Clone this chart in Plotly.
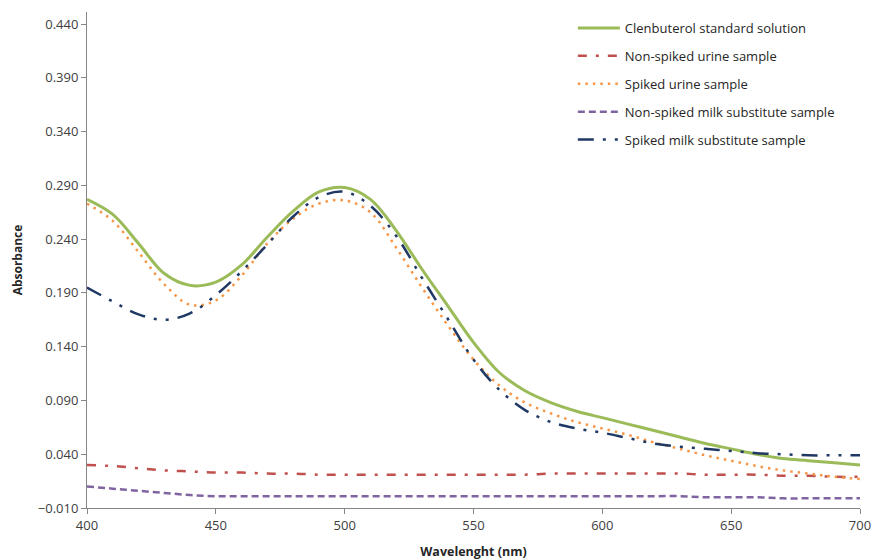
import plotly.graph_objects as go

# Wavelength grid (nm)
wl = [400, 410, 420, 430, 440, 450, 460, 470, 480, 490, 500, 510, 520, 530,
      540, 550, 560, 570, 580, 590, 600, 610, 620, 630, 640, 650, 660, 670, 680, 690, 700]

clenbuterol_std = [0.277, 0.263, 0.236, 0.208, 0.197, 0.200, 0.216, 0.242, 0.266, 0.284,
                   0.288, 0.277, 0.248, 0.212, 0.178, 0.144, 0.116, 0.099, 0.088, 0.080, 0.074,
                   0.068, 0.062, 0.056, 0.050, 0.045, 0.040, 0.036, 0.034, 0.032, 0.030]

spiked_urine = [0.273, 0.257, 0.228, 0.198, 0.179, 0.183, 0.206, 0.236, 0.259, 0.273,
                0.276, 0.265, 0.232, 0.195, 0.160, 0.128, 0.104, 0.088, 0.078, 0.070, 0.064,
                0.058, 0.051, 0.045, 0.039, 0.034, 0.029, 0.025, 0.022, 0.019, 0.017]

spiked_milk = [0.195, 0.182, 0.170, 0.165, 0.171, 0.188, 0.210, 0.235, 0.261, 0.279,
               0.284, 0.271, 0.243, 0.204, 0.166, 0.128, 0.100, 0.081, 0.070, 0.064, 0.060,
               0.055, 0.050, 0.047, 0.045, 0.043, 0.041, 0.040, 0.039, 0.039, 0.039]

nonspiked_urine = [0.030, 0.029, 0.027, 0.025, 0.024, 0.023, 0.023, 0.022, 0.022, 0.021,
                   0.021, 0.021, 0.021, 0.021, 0.021, 0.021, 0.021, 0.021, 0.022, 0.022, 0.022,
                   0.022, 0.022, 0.022, 0.021, 0.021, 0.021, 0.020, 0.020, 0.019, 0.019]

nonspiked_milk = [0.010, 0.008, 0.006, 0.004, 0.002, 0.001, 0.001, 0.001, 0.001, 0.001,
                  0.001, 0.001, 0.001, 0.001, 0.001, 0.001, 0.001, 0.001, 0.001, 0.001, 0.001,
                  0.001, 0.001, 0.001, 0.000, 0.000, 0.000, -0.001, -0.001, -0.001, -0.001]

x_ticks = [400, 450, 500, 550, 600, 650, 700]
y_ticks = [-0.010, 0.040, 0.090, 0.140, 0.190, 0.240, 0.290, 0.340, 0.390, 0.440]

series = [
    ("Clenbuterol standard solution", clenbuterol_std, "#9BBB59", "solid", 3),
    ("Non-spiked urine sample", nonspiked_urine, "#C0504D", "9px,9px,3px,9px", 2.5),
    ("Spiked urine sample", spiked_urine, "#F79646", "2.5px,5px", 2.5),
    ("Non-spiked milk substitute sample", nonspiked_milk, "#8064A2", "7px,4px", 2.5),
    ("Spiked milk substitute sample", spiked_milk, "#1F3864", "16px,9px,3px,9px,3px,9px", 2.5),
]

fig = go.Figure()
for name, vals, color, dash, w in series:
    fig.add_trace(go.Scatter(
        x=wl, y=vals, name=name, mode="lines",
        line=dict(color=color, dash=dash, width=w, shape="spline", smoothing=1.0),
        legendgroup=name,
    ))

axis_color = "#868686"
tick_font = dict(family="Open Sans, sans-serif", size=13, color="#404040")
title_font = dict(family="Open Sans, sans-serif", size=12.5, color="#262626")

fig.update_layout(
    width=873, height=560,
    margin=dict(l=87, r=13, t=12, b=52, autoexpand=False),
    paper_bgcolor="white", plot_bgcolor="white",
    showlegend=True,
    legend=dict(
        x=0.6285, y=0.998, xanchor="left", yanchor="top",
        font=dict(family="Open Sans, sans-serif", size=13, color="#262626"),
        tracegroupgap=8, itemwidth=42, bgcolor="rgba(0,0,0,0)",
    ),
    xaxis=dict(
        range=[400, 700], tickvals=x_ticks, ticktext=[str(v) for v in x_ticks],
        showline=True, linecolor=axis_color, linewidth=1,
        ticks="outside", ticklen=5, tickcolor=axis_color,
        showgrid=False, zeroline=False, tickfont=tick_font,
        title=dict(text="<b>Wavelenght (nm)</b>", standoff=14, font=title_font),
    ),
    yaxis=dict(
        range=[-0.010, 0.4512], tickvals=y_ticks, tickformat=".3f",
        showline=True, linecolor=axis_color, linewidth=1,
        ticks="outside", ticklen=5, tickcolor=axis_color,
        showgrid=False, zeroline=False, tickfont=tick_font,
        title=dict(text="<b>Absorbance</b>", standoff=12,
                   font=dict(family="Open Sans, sans-serif", size=12, color="#262626")),
    ),
)

fig.write_html("out.html", config={"displayModeBar": False},
               post_script="document.body.style.margin='0';")
